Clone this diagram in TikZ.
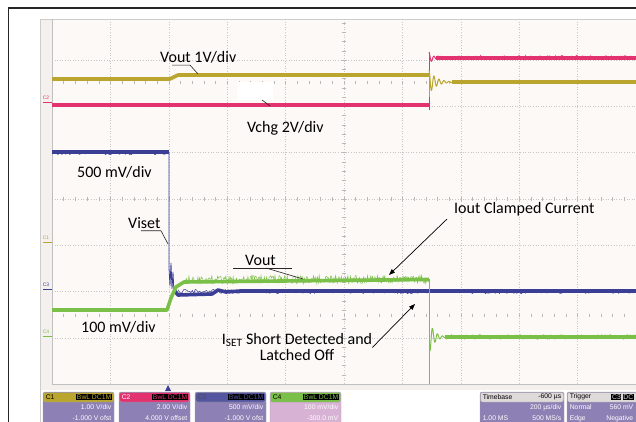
\documentclass[tikz,border=0pt]{standalone}
\usepackage{fontspec}
\setmainfont{Carlito}
\newfontfamily\scopefont{Liberation Sans}
\usetikzlibrary{arrows.meta,calc}
\definecolor{chone}{RGB}{186,165,46}
\definecolor{chtwo}{RGB}{226,50,112}
\definecolor{chthree}{RGB}{58,62,148}
\definecolor{chfour}{RGB}{122,192,72}
\definecolor{screenbg}{RGB}{252,249,247}
\definecolor{bezel}{RGB}{244,240,238}
\definecolor{panelbody}{RGB}{141,128,180}
\definecolor{cfourbody}{RGB}{216,178,212}
\definecolor{tbhead}{RGB}{222,218,218}
\definecolor{cthreehead}{RGB}{84,86,160}
\tikzset{
  trace/.style={line width=3.6pt, line join=round},
  fuzz/.style={line width=0.5pt},
  gridline/.style={black!22, dotted, line width=0.6pt},
  tickmark/.style={black!28, line width=0.4pt},
  lbl/.style={font=\fontsize{16}{18}\selectfont, inner sep=0pt, anchor=west},
  leader/.style={black!85, line width=0.6pt},
  pointer/.style={black, line width=0.7pt, -{Triangle[length=6pt,width=4.5pt]}},
  chanbox/.style={rounded corners=2pt, draw=black!35, line width=0.4pt},
  tinytext/.style={font=\scopefont\fontsize{6.8}{7}\selectfont, inner sep=0.6pt},
  chmark/.style={font=\scopefont\fontsize{5}{5}\selectfont, inner sep=0pt},
}
\begin{document}
\begin{tikzpicture}[x=1pt,y=-1pt]
\useasboundingbox (0,0) rectangle (636,422);
\pgfmathsetseed{17}
% screen and frame
\fill[white] (0,0) rectangle (636,422);
\fill[bezel] (40,19) rectangle (640,390);
\fill[screenbg] (52,19) rectangle (640,384);
\draw[black!85, line width=1.2pt] (8.5,430) -- (8.5,8) -- (640,8);
\draw[black!20, line width=0.6pt] (40,430) -- (40,19) -- (640,19);
% graticule
\foreach \i in {1,...,9}
  \draw[gridline] ({52+\i*58.4},19) -- ({52+\i*58.4},384);
\foreach \j in {-3,...,3}
  \draw[gridline] (52,{199+\j*46.3}) -- (640,{199+\j*46.3});
\draw[black!25, line width=0.7pt] (52,19) -- (52,384) -- (640,384);
\foreach \k in {0,...,50} {
  \draw[tickmark] ({52+\k*11.68},197) -- ++(0,4);
  \draw[tickmark] ({52+\k*11.68},81.5) -- ++(0,3);
  \draw[tickmark] ({52+\k*11.68},313.5) -- ++(0,3);
}
\foreach \k in {-19,...,19}
  \draw[tickmark] (342,{199+\k*9.26}) -- ++(4,0);
% channel markers
\node[chmark, text=chtwo] (mtwo) at (46,98) {C2};
\draw[chtwo, line width=0.8pt] (43,102) -- (52,102);
\node[chmark, text=chone] (mone) at (46,238) {C1};
\draw[chone, line width=0.8pt] (43,242) -- (52,242);
\node[chmark, text=chthree] (mthree) at (46,285) {C3};
\draw[chthree, line width=0.8pt] (43,289) -- (52,289);
\node[chmark, text=chfour] (mfour) at (46,332) {C4};
\draw[chfour, line width=0.8pt] (43,336) -- (52,336);
% C2 Vchg
\draw[trace, chtwo] (52,105) -- (429,105);
\draw[chtwo, fuzz] plot[domain=52:429, samples=160] (\x,{105+1.8*rand});
\draw[chtwo, line width=1pt] (429,110) -- (429,53);
\draw[chtwo, line width=1pt] plot[domain=429:446, samples=60] (\x,{58-6*exp(-(\x-429)/4)*cos(72*(\x-429))});
\draw[trace, chtwo] (436,58) -- (636,58);
\draw[chtwo, fuzz] plot[domain=436:636, samples=180] (\x,{57.5+2.2*rand});
% C1 Vout
\draw[trace, chone] (52,79) -- (170,79) -- (178,75) -- (429,75);
\draw[chone, fuzz] plot[domain=52:170, samples=60] (\x,{79+1.8*rand});
\draw[chone, fuzz] plot[domain=178:429, samples=120] (\x,{75+1.8*rand});
\draw[chone, line width=1pt] (429,75) -- (429,97);
\draw[chone, line width=1pt] plot[domain=429:468, samples=120] (\x,{82-12*exp(-(\x-429)/7)*cos(72*(\x-429))});
\draw[trace, chone] (452,82) -- (636,82);
\draw[chone, fuzz] plot[domain=452:636, samples=160] (\x,{82+1.8*rand});
% C3 Viset
\draw[trace, chthree] (52,152) -- (169,152);
\draw[chthree, fuzz] plot[domain=52:169, samples=60] (\x,{153+1.8*rand});
\draw[chthree, line width=0.8pt] (169,152) -- (169,268) -- (170,286) -- (171,263) -- (172,289) -- (173,272) -- (174,293);
\draw[trace, chthree] (174,290) -- (178,295) -- (212,294) -- (218,290) -- (226,292) -- (240,291) -- (636,291);
\draw[chthree, fuzz] plot[domain=178:636, samples=320] (\x,{291.5+2.2*rand});
% C4 Iout
\draw[trace, chfour] (52,310) -- (167,310) -- (171,298) -- (176,287) -- (184,282) -- (429,279.5);
\draw[chfour, fuzz] plot[domain=52:167, samples=60] (\x,{310+1.8*rand});
\draw[chfour, fuzz] plot[domain=184:429, samples=300] (\x,{279.5+4*rand});
\draw[chfour, line width=0.8pt] (429,279) -- (429,384);
\draw[chfour, line width=1pt] plot[domain=430:452, samples=80] (\x,{337+14*exp(-(\x-430)/5)*cos(72*(\x-430))});
\draw[trace, chfour] (445,337) -- (636,337);
\draw[chfour, fuzz] plot[domain=445:636, samples=180] (\x,{337+2.4*rand});
% annotations
\node[lbl] (voutone) at (160,57) {Vout 1V/div};
\coordinate (voutonetip) at (198,74);
\draw[leader] ($(voutone.south west)+(12,2)$) -- ++(18,0) -- (voutonetip);
\fill[white] (237,82) rectangle (273,100);
\coordinate (vchgtip) at (270,106);
\draw[leader] (262,100) -- (vchgtip);
\node[lbl] (vchg) at (247,128) {Vchg 2V/div};
\node[lbl] (bluediv) at (77,172) {500 mV/div};
\node[lbl] (viset) at (128,223) {Viset};
\coordinate (visettip) at (168,244);
\draw[leader] ($(viset.south west)+(13,2)$) -- ++(20,0) -- (visettip);
\node[lbl] (vouttwo) at (245,260) {Vout};
\coordinate (vouttwotip) at (303,279);
\draw[leader] (233,268) -- (292,268);
\draw[leader] (266,268) -- (vouttwotip);
\node[lbl] (greendiv) at (81,327) {100 mV/div};
\node[lbl, anchor=center, align=center] (iset) at (297,346.5) {I\textsubscript{SET} Short Detected and\\[-2pt]Latched Off};
\coordinate (latchtip) at (415,304);
\draw[pointer] ($(iset.east)+(0,1)$) -- (latchtip);
\node[lbl] (iout) at (454,209) {Iout Clamped Current};
\coordinate (clamptip) at (389,275);
\draw[pointer] ($(iout.south west)+(-7,3)$) -- (clamptip);
% trigger marker
\fill[chthree] (165,391) -- (171,391) -- (168,385) -- cycle;
% channel panels
\foreach \px/\hd/\bd/\nm/\nmcol/\lineone/\linetwo in {
  43/chone/panelbody/C1/black/{1.00 V/div}/{-1.000 V ofst},
  119/chtwo/panelbody/C2/white/{2.00 V/div}/{4.000 V offset},
  195/cthreehead/panelbody/C3/black!70/{500 mV/div}/{-1.000 V ofst},
  270/chfour/cfourbody/C4/black/{100 mV/div}/{-300.0 mV}} {
  \filldraw[chanbox, fill=\bd] (\px,392) rectangle ++(71,36);
  \filldraw[chanbox, fill=\hd] ({\px+0.5},392.5) rectangle ++(70,9.5);
  \node[tinytext, text=\nmcol, anchor=west] at ({\px+2},397.2) {\nm};
  \node[tinytext, fill=black, text=\hd, anchor=east] at ({\px+69},397.2) {DC1M};
  \node[tinytext, fill=black, text=\hd, anchor=east] at ({\px+48},397.2) {BwL};
  \node[tinytext, text=white, anchor=east] at ({\px+69},407.5) {\lineone};
  \node[tinytext, text=white, anchor=east] at ({\px+69},418.5) {\linetwo};
}
% timebase and trigger
\filldraw[chanbox, fill=panelbody] (480,392) rectangle ++(84,36);
\filldraw[chanbox, fill=tbhead] (480.5,392.5) rectangle ++(83,9.5);
\node[tinytext, anchor=west] (tb) at (482,397.2) {Timebase};
\node[tinytext, anchor=east] (tbdelay) at (562,397.2) {-600 µs};
\node[tinytext, text=white, anchor=east] (tbdiv) at (562,407.5) {200 µs/div};
\node[tinytext, text=white, anchor=west] (tbpts) at (482,418.5) {1.00 MS};
\node[tinytext, text=white, anchor=east] (tbrate) at (562,418.5) {500 MS/s};
\filldraw[chanbox, fill=panelbody] (567,392) rectangle ++(90,36);
\filldraw[chanbox, fill=tbhead] (567.5,392.5) rectangle ++(89,9.5);
\node[tinytext, anchor=west] (trg) at (569,397.2) {Trigger};
\node[tinytext, fill=black, text=tbhead, anchor=east] (trgcpl) at (634,397.2) {DC};
\node[tinytext, fill=black, text=tbhead, anchor=east] (trgsrc) at ($(trgcpl.west)+(-1,0)$) {C3};
\node[tinytext, text=white, anchor=west] (trgmode) at (569,407.5) {Normal};
\node[tinytext, text=white, anchor=east] (trglevel) at (634,407.5) {560 mV};
\node[tinytext, text=white, anchor=west] (trgtype) at (569,418.5) {Edge};
\node[tinytext, text=white, anchor=east] (trgslope) at (634,418.5) {Negative};
\end{tikzpicture}
\end{document}
